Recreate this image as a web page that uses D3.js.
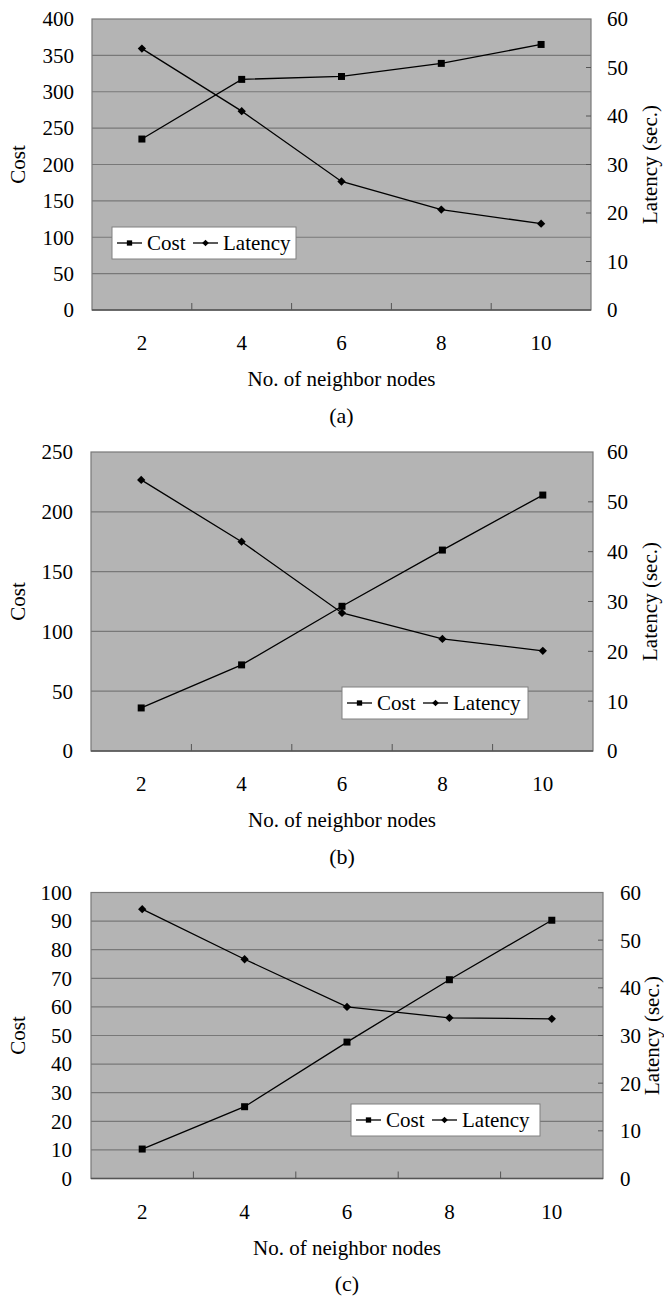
<!DOCTYPE html>
<html>
<head>
<meta charset="utf-8">
<script src="https://cdn.jsdelivr.net/npm/d3@7"></script>
<style>
  html, body { margin: 0; padding: 0; background: #fff; }
  svg { display: block; }
  text { font-family: "Liberation Serif", "Times New Roman", serif; fill: #000; }
</style>
</head>
<body>
<svg id="chart" width="664" height="1298"></svg>
<script>
// Neighbor-node counts shared by all three panels
const categories = [2, 4, 6, 8, 10];

// Panel (a)
const costA = [235, 317, 321, 339, 365];
const latencyA = [53.9, 41.0, 26.5, 20.7, 17.8];
// Panel (b)
const costB = [36, 72, 121, 168, 214];
const latencyB = [54.4, 42.0, 27.7, 22.5, 20.1];
// Panel (c)
const costC = [10.3, 25.1, 47.7, 69.5, 90.3];
const latencyC = [56.5, 46.0, 36.0, 33.7, 33.5];

// Axis ticks
const costTicksA = [0, 50, 100, 150, 200, 250, 300, 350, 400];
const costTicksB = [0, 50, 100, 150, 200, 250];
const costTicksC = [0, 10, 20, 30, 40, 50, 60, 70, 80, 90, 100];
const latencyTicks = [0, 10, 20, 30, 40, 50, 60];

const seriesNames = ["Cost", "Latency"];
const panelLabels = ["(a)", "(b)", "(c)"];
const xTitle = "No. of neighbor nodes";
const yTitleLeft = "Cost";
const yTitleRight = "Latency (sec.)";

const panels = [
  { cost: costA, latency: latencyA, costTicks: costTicksA, label: panelLabels[0],
    box: { l: 92, r: 591, t: 19, b: 310 }, leftLabelX: 74, rightLabelX: 607, rightTitleX: 650,
    legend: { x: 112, y: 227, w: 184, h: 32 } },
  { cost: costB, latency: latencyB, costTicks: costTicksB, label: panelLabels[1],
    box: { l: 91, r: 593, t: 452, b: 751 }, leftLabelX: 73, rightLabelX: 607, rightTitleX: 650,
    legend: { x: 342, y: 687, w: 186, h: 32 } },
  { cost: costC, latency: latencyC, costTicks: costTicksC, label: panelLabels[2],
    box: { l: 91, r: 603, t: 892.5, b: 1178.5 }, leftLabelX: 72, rightLabelX: 620, rightTitleX: 652,
    legend: { x: 351, y: 1104, w: 189, h: 32 } }
];

const svg = d3.select("#chart");
const FS = 21;
const plotFill = "#b4b4b4";
const gridColor = "#787878";

const squareSym = d3.symbol().type(d3.symbolSquare);
const diamondSym = d3.symbol().type(d3.symbolDiamond2);

panels.forEach(p => {
  const { l, r, t, b } = p.box;
  const g = svg.append("g");

  const x = d3.scaleBand().domain(categories).range([l, r]);
  const yCost = d3.scaleLinear().domain([0, d3.max(p.costTicks)]).range([b, t]);
  const yLat = d3.scaleLinear().domain([0, 60]).range([b, t]);

  // plot area
  g.append("rect").attr("x", l).attr("y", t).attr("width", r - l).attr("height", b - t)
    .attr("fill", plotFill);

  // horizontal gridlines from the cost axis
  g.selectAll(".grid").data(p.costTicks.slice(1, -1)).join("line")
    .attr("x1", l).attr("x2", r)
    .attr("y1", d => yCost(d)).attr("y2", d => yCost(d))
    .attr("stroke", gridColor).attr("stroke-width", 1.2);

  // border
  g.append("rect").attr("x", l).attr("y", t).attr("width", r - l).attr("height", b - t)
    .attr("fill", "none").attr("stroke", gridColor).attr("stroke-width", 1.2);
  g.append("line").attr("x1", l).attr("x2", r).attr("y1", b).attr("y2", b)
    .attr("stroke", "#555").attr("stroke-width", 1.4);

  // category separators along the bottom
  const bounds = categories.slice(1).map(c => x(c));
  g.selectAll(".ctick").data(bounds).join("line")
    .attr("x1", d => d).attr("x2", d => d).attr("y1", b).attr("y2", b - 7)
    .attr("stroke", "#555").attr("stroke-width", 1);

  // right-axis tick marks
  g.selectAll(".rtick").data(latencyTicks.slice(1, -1)).join("line")
    .attr("x1", r - 5).attr("x2", r)
    .attr("y1", d => yLat(d)).attr("y2", d => yLat(d))
    .attr("stroke", "#555").attr("stroke-width", 1);

  // left tick labels
  g.selectAll(".ylab").data(p.costTicks).join("text")
    .attr("x", p.leftLabelX).attr("y", d => yCost(d))
    .attr("dy", "0.35em").attr("text-anchor", "end").attr("font-size", FS)
    .text(d => d);

  // right tick labels
  g.selectAll(".rlab").data(latencyTicks).join("text")
    .attr("x", p.rightLabelX).attr("y", d => yLat(d))
    .attr("dy", "0.35em").attr("text-anchor", "start").attr("font-size", FS)
    .text(d => d);

  // x tick labels
  g.selectAll(".xlab").data(categories).join("text")
    .attr("x", d => x(d) + x.bandwidth() / 2).attr("y", b + 33)
    .attr("dy", "0.35em").attr("text-anchor", "middle").attr("font-size", FS)
    .text(d => d);

  // axis titles
  const cx = (l + r) / 2;
  g.append("text").attr("x", cx).attr("y", b + 69).attr("dy", "0.35em")
    .attr("text-anchor", "middle").attr("font-size", FS).text(xTitle);
  g.append("text").attr("x", cx).attr("y", b + 105).attr("dy", "0.35em")
    .attr("text-anchor", "middle").attr("font-size", FS + 1).text(p.label);

  const cy = (t + b) / 2;
  g.append("text").attr("transform", `translate(18,${cy}) rotate(-90)`)
    .attr("dy", "0.35em").attr("text-anchor", "middle").attr("font-size", FS).text(yTitleLeft);
  g.append("text").attr("transform", `translate(${p.rightTitleX},${cy}) rotate(-90)`)
    .attr("dy", "0.35em").attr("text-anchor", "middle").attr("font-size", FS).text(yTitleRight);

  // series lines and markers
  const px = i => x(categories[i]) + x.bandwidth() / 2;
  const costLine = d3.line().x((d, i) => px(i)).y(d => yCost(d));
  const latLine = d3.line().x((d, i) => px(i)).y(d => yLat(d));

  g.append("path").attr("d", costLine(p.cost)).attr("fill", "none")
    .attr("stroke", "#000").attr("stroke-width", 1.3);
  g.append("path").attr("d", latLine(p.latency)).attr("fill", "none")
    .attr("stroke", "#000").attr("stroke-width", 1.3);

  g.selectAll(".sq").data(p.cost).join("path")
    .attr("transform", (d, i) => `translate(${px(i)},${yCost(d)})`)
    .attr("d", squareSym.size(49)()).attr("fill", "#000");
  g.selectAll(".dm").data(p.latency).join("path")
    .attr("transform", (d, i) => `translate(${px(i)},${yLat(d)})`)
    .attr("d", diamondSym.size(44)()).attr("fill", "#000");

  // legend
  const lg = p.legend;
  const leg = g.append("g").attr("transform", `translate(${lg.x},${lg.y})`);
  leg.append("rect").attr("width", lg.w).attr("height", lg.h)
    .attr("fill", "#fff").attr("stroke", "#808080").attr("stroke-width", 1);
  const items = [
    { name: seriesNames[0], sym: squareSym.size(28)(), x0: 5 },
    { name: seriesNames[1], sym: diamondSym.size(28)(), x0: 81 }
  ];
  items.forEach(it => {
    const my = lg.h / 2;
    leg.append("line").attr("x1", it.x0).attr("x2", it.x0 + 25)
      .attr("y1", my).attr("y2", my).attr("stroke", "#000").attr("stroke-width", 1.3);
    leg.append("path").attr("transform", `translate(${it.x0 + 12.5},${my})`)
      .attr("d", it.sym).attr("fill", "#000");
    leg.append("text").attr("x", it.x0 + 30).attr("y", my).attr("dy", "0.35em")
      .attr("font-size", FS).text(it.name);
  });
});
</script>
</body>
</html>
